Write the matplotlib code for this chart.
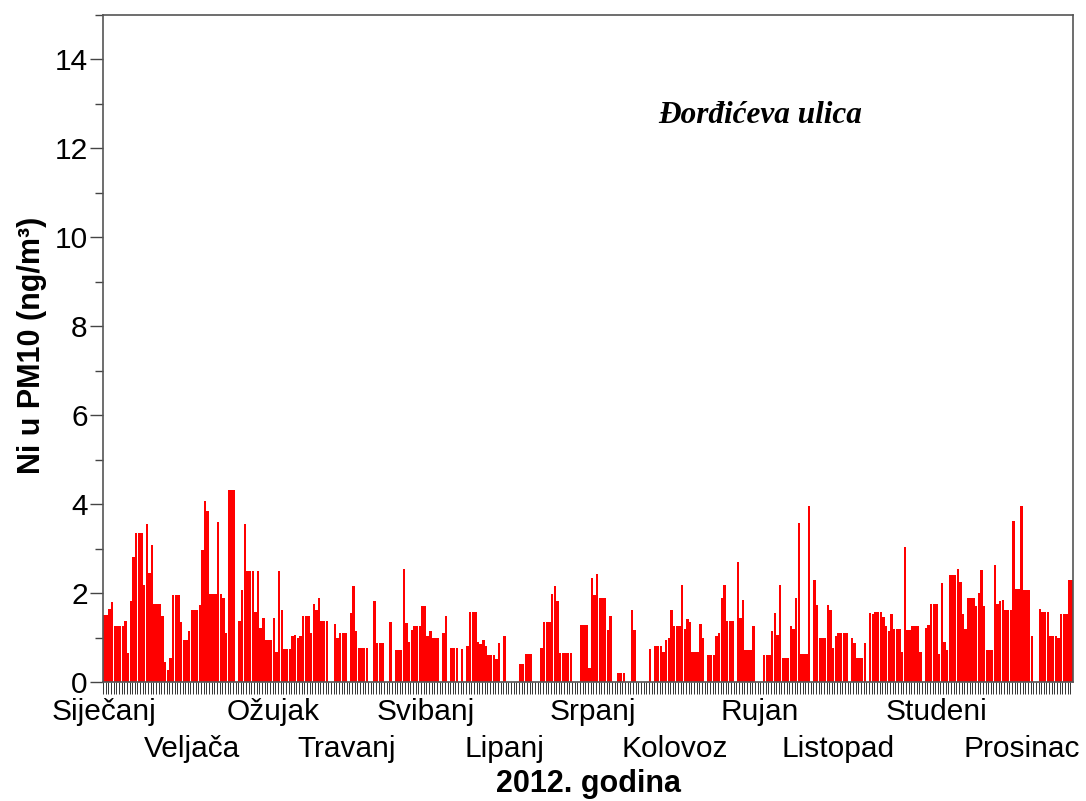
import numpy as np
import matplotlib as mpl
mpl.use('Agg')
import matplotlib.pyplot as plt
from matplotlib.ticker import MultipleLocator

# Arial look-alike
mpl.rcParams['font.family'] = 'Liberation Sans'

# Daily Ni in PM10 (ng/m3) for 2012, None = no sample that day
jan = [1.5, 1.5, 1.65, 1.79, 1.25, 1.25, 1.25, 1.25, 1.38, 0.65, 1.82, 2.82,
       3.36, 3.36, 3.36, 2.19, 3.55, 2.46, 3.09, 1.76, 1.76, 1.76, 1.49, 0.44,
       0.27, 0.55, 1.96, 1.96, 1.96, 1.35, 0.95]
feb = [0.95, 1.14, 1.62, 1.62, 1.62, 1.73, 2.96, 4.08, 3.84, 1.97, 1.97, 1.97,
       3.6, 1.98, 1.88, 1.1, 4.31, 4.31, 4.31, None, 1.38, 2.06, 3.55, 2.5,
       2.5, 2.5, 1.58, 2.5, 1.22]
mar = [1.44, 0.95, 0.95, 0.95, 1.45, 0.68, 2.5, 1.62, 0.74, 0.74, 0.74, 1.04,
       1.06, 0.98, 1.04, 1.49, 1.49, 1.49, 1.11, 1.76, 1.61, 1.9, 1.38, 1.38,
       1.38, None, None, 1.31, 1.0, 1.11, 1.11]
apr = [1.11, None, 1.55, 2.17, 1.14, 0.77, 0.77, 0.77, 0.77, None, None, 1.82,
       0.87, 0.87, 0.87, None, None, 1.36, None, 0.73, 0.73, 0.73, 2.55, 1.33,
       0.89, 1.17, 1.25, 1.25, 1.25, 1.71]
may = [1.71, 1.04, 1.14, 1.0, 1.0, 1.0, None, 1.11, 1.49, None, 0.77, 0.77,
       0.77, None, 0.74, None, 0.8, 1.58, 1.58, 1.58, 0.89, 0.85, 0.95, 0.82,
       0.6, 0.6, 0.6, 0.52, 0.87, None, 1.04]
jun = [None, None, None, None, None, 0.41, 0.41, 0.63, 0.63, 0.63, None, None,
       None, 0.77, 1.36, 1.36, 1.36, 1.98, 2.17, 1.82, 0.65, 0.65, 0.65, 0.65,
       0.65, None, None, None, 1.28, 1.28]
jul = [1.28, 0.31, 2.34, 1.95, 2.44, 1.9, 1.9, 1.9, 1.17, 1.49, None, None,
       0.2, 0.2, 0.2, None, None, 1.61, 1.17, None, None, None, None, None,
       0.74, None, 0.8, 0.8, 0.8, 0.68, 0.95]
aug = [0.98, 1.63, 1.25, 1.25, 1.25, 2.19, 1.19, 1.41, 1.36, 0.68, 0.68, 0.68,
       1.31, 1.0, None, 0.6, 0.6, 0.6, 1.04, 1.11, 1.9, 2.19, 1.38, 1.38,
       1.38, None, 2.69, 1.44, 1.85, 0.71, 0.71]
sep = [0.71, 1.25, None, None, None, 0.6, 0.6, 0.6, 1.14, 1.55, 1.06, 2.19,
       0.55, 0.55, 0.55, 1.25, 1.19, 1.9, 3.58, 0.63, 0.63, 0.63, 3.96, None,
       2.3, 1.73, 1.0, 1.0, 1.0, 1.73]
oct_ = [1.62, 0.77, 1.04, 1.11, 1.11, 1.11, 1.11, None, 1.0, 0.87, 0.55, 0.55,
        0.55, 0.87, None, 1.55, 1.52, 1.58, 1.58, 1.58, 1.47, 1.25, 1.14, 1.52,
        1.19, 1.19, 1.19, 0.68, 3.04, 1.16, 1.16]
nov = [1.25, 1.25, 1.25, 0.68, None, 1.22, 1.28, 1.76, 1.76, 1.76, 0.63, 2.22,
       0.89, 0.73, 2.41, 2.41, 2.41, 2.55, 2.25, 1.52, 1.19, 1.9, 1.9, 1.9,
       1.71, 2.0, 2.52, 1.71, 0.73, 0.73]
dec = [0.73, 2.63, 1.76, 1.82, 1.85, 1.63, 1.63, 1.63, 3.63, 2.09, 2.09, 3.96,
       2.06, 2.06, 2.06, 1.04, None, None, 1.65, 1.58, 1.58, 1.58, 1.04, 1.04,
       1.04, 0.98, 1.52, 1.52, 1.52, 2.3, 2.3]

month_names = ['Siječanj', 'Veljača', 'Ožujak', 'Travanj', 'Svibanj', 'Lipanj',
               'Srpanj', 'Kolovoz', 'Rujan', 'Listopad', 'Studeni', 'Prosinac']

# Where each month name sits along the day axis
label_days = [-0.1, 33.1, 63.7, 91.6, 121.4, 150.8, 184.4, 215.4, 247.4,
              276.9, 313.8, 346.3]

# Join months, missing days as 0 height
all_days = jan + feb + mar + apr + may + jun + jul + aug + sep + oct_ + nov + dec
values = np.array([0.0 if v is None else v for v in all_days])
days = np.arange(values.size)

fig = plt.figure(figsize=(10.86, 8.01), dpi=100)
ax = fig.add_axes([103 / 1086, 1 - 682 / 801, 970 / 1086, 667 / 801])

# Daily bars
ax.bar(days, values, width=0.9, color='#FF0000', linewidth=0)

ax.set_xlim(-0.5, values.size - 0.5)
ax.set_ylim(0, 15)

# Y axis: labelled every 2, minor every 1
ax.yaxis.set_major_locator(MultipleLocator(2))
ax.yaxis.set_minor_locator(MultipleLocator(1))
ax.tick_params(axis='y', which='major', direction='out', length=9.5,
               width=1, color='#444444', labelsize=21.5, pad=1.5)
ax.tick_params(axis='y', which='minor', direction='out', length=6,
               width=1, color='#444444')

# X axis: one tick per day, no tick labels
ax.set_xticks(days - 0.5, minor=True)
ax.set_xticks([])
ax.tick_params(axis='x', which='minor', direction='out', length=8.6,
               width=0.7, color='#333333')

# Spine coloring
for spine in ['top', 'bottom', 'left', 'right']:
    ax.spines[spine].set_color('#555555')
    ax.spines[spine].set_linewidth(1.2)

# Month names on two alternating rows
for i, (name, d) in enumerate(zip(month_names, label_days)):
    row_y = -0.057 if i % 2 == 0 else -0.1124
    ax.text(d, row_y, name, transform=ax.get_xaxis_transform(), ha='center',
            va='baseline', fontsize=21.5, clip_on=False)

# Station name inside the plot
ax.text(0.677, 0.838, 'Đorđićeva ulica', transform=ax.transAxes, ha='center',
        va='baseline', fontsize=22.5, family='Liberation Serif',
        fontweight='bold', fontstyle='italic')

# Axis labels
fig.text(32 / 1086, 1 - 345 / 801, 'Ni u PM10 (ng/m³)', rotation=90,
         ha='center', va='center', fontsize=22, fontweight='bold')
fig.text(589 / 1086, 1 - 784 / 801, '2012. godina', ha='center',
         va='center', fontsize=22, fontweight='bold')

fig.savefig('out.png', dpi=100)
